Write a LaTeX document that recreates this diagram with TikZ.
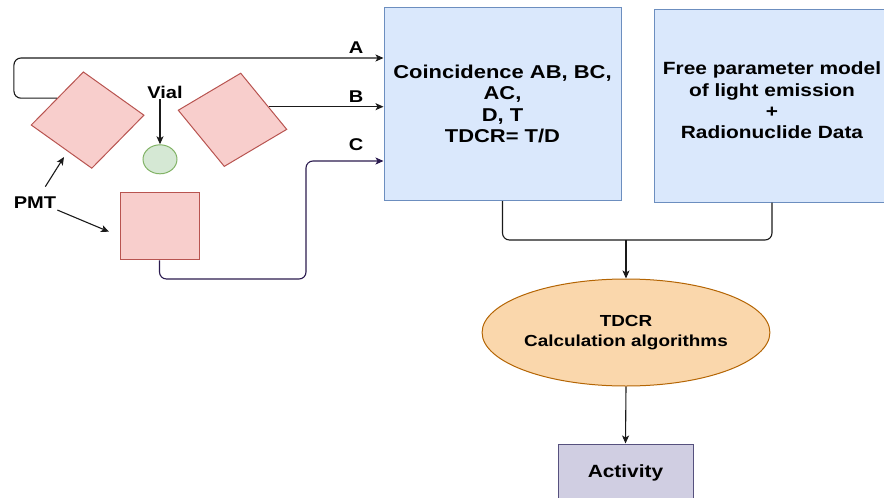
\documentclass[tikz,border=0pt]{standalone}
\usepackage{fontspec}
\setmainfont{Liberation Sans}[FakeStretch=1.18]
\usetikzlibrary{arrows.meta,shapes.geometric,calc}

\definecolor{bluefill}{HTML}{DAE8FC}
\definecolor{bluedraw}{HTML}{6C8EBF}
\definecolor{redfill}{HTML}{F8CECC}
\definecolor{reddraw}{HTML}{B85450}
\definecolor{greenfill}{HTML}{D5E8D4}
\definecolor{greendraw}{HTML}{82B366}
\definecolor{orangefill}{HTML}{FAD7AC}
\definecolor{orangedraw}{HTML}{B46504}
\definecolor{purplefill}{HTML}{D0CEE2}
\definecolor{purpledraw}{HTML}{56517E}
\definecolor{wireC}{HTML}{2B1B4F}
\definecolor{wire}{HTML}{1A1A1A}

\tikzset{
  bluebox/.style={draw=bluedraw, fill=bluefill, line width=1pt, inner sep=0pt,
    align=center, font=\bfseries\fontsize{17.7}{21.3}\selectfont},
  pmtdia/.style={diamond, draw=reddraw, fill=redfill, line width=1pt, inner sep=0pt},
  pmtsq/.style={draw=reddraw, fill=redfill, line width=1pt, inner sep=0pt},
  vialshape/.style={ellipse, draw=greendraw, fill=greenfill, line width=1pt, inner sep=0pt},
  algo/.style={ellipse, draw=orangedraw, fill=orangefill, line width=1pt, inner sep=0pt,
    align=center, font=\bfseries\fontsize{16}{20}\selectfont},
  result/.style={draw=purpledraw, fill=purplefill, line width=1pt, inner sep=0pt,
    font=\bfseries\fontsize{17.7}{21.3}\selectfont},
  lab/.style={inner sep=1pt, font=\bfseries\fontsize{17}{20}\selectfont},
  wireline/.style={draw=wire, line width=1.1pt},
  arr/.style={wireline, -{Stealth[length=8pt,width=7pt,inset=2pt]}},
}

\begin{document}
\begin{tikzpicture}[x=1pt,y=-1pt]
\useasboundingbox (0,0) rectangle (884,498);
\clip (0,0) rectangle (884,498);

% detector: two tilted PMTs, one square PMT and the vial
\node[pmtdia, minimum width=113.5pt, minimum height=97pt, rotate=5] (ld) at (87.6,120.1) {};
\node[pmtdia, minimum width=110.5pt, minimum height=95pt, rotate=-10] (rd) at (232.5,119.8) {};
\node[pmtsq, minimum width=79pt, minimum height=67pt] (sq) at (159.5,226.4) {};
\node[vialshape, minimum width=34pt, minimum height=29pt] (vial) at (160,159.3) {};

% labels
\node[lab] (vlab) at (165,92) {Vial};
\node[lab] (pmt) at (35,203) {PMT};
\node[lab] (la) at (356,48) {A};
\node[lab] (lb) at (356,97) {B};
\node[lab] (lc) at (356,145) {C};

% processing boxes
\node[bluebox, minimum width=237pt, minimum height=193pt,
  font=\bfseries\fontsize{18.6}{21.3}\selectfont] (b1) at (502.5,104)
  {Coincidence AB, BC,\\AC,\\D, T\\TDCR= T/D};
\node[bluebox, minimum width=236pt, minimum height=193pt, text depth=10pt] (b2) at (772,105.5)
  {Free parameter model\\of light emission\\+\\Radionuclide Data};
\node[algo, minimum width=282pt, minimum height=107pt] (alg) at (626,332.5)
  {TDCR\\Calculation algorithms};
\node[result, minimum width=135pt, minimum height=58pt] (act) at (625.5,473) {Activity};

% helper coordinates for routing
\coordinate (ya) at (0,58);
\coordinate (cturn) at (306,279);
\coordinate (yc) at (0,161);
\coordinate (j) at (626,240);
\coordinate (t1) at (64,157);
\coordinate (t2) at (109,231.7);
\coordinate (astart) at ($(ld.west)!0.5!(ld.north)$);
\coordinate (bstart) at ($(rd.north)!0.6!(rd.east)$);

% signal lines A, B, C
\draw[arr, rounded corners=7pt] (astart) -- ++(-43,0) |- (b1.west |- ya);
\draw[arr] (bstart) -- (bstart -| b1.west);
\draw[arr, draw=wireC, rounded corners=7pt] (sq.south) |- (cturn) |- (b1.west |- yc);

% annotation arrows
\draw[arr] (vlab.south -| vial.north) -- (vial.north);
\draw[arr, shorten <=11pt] (pmt) -- (t1);
\draw[arr] (pmt.south east) -- (t2);

% merge of both boxes into the algorithm
\draw[wireline, rounded corners=7pt] (b1.south) |- (j) -| (b2.south);
\draw[arr] (j) -- (alg.north);
\draw[arr] (alg.south) -- (act.north);
\end{tikzpicture}
\end{document}
